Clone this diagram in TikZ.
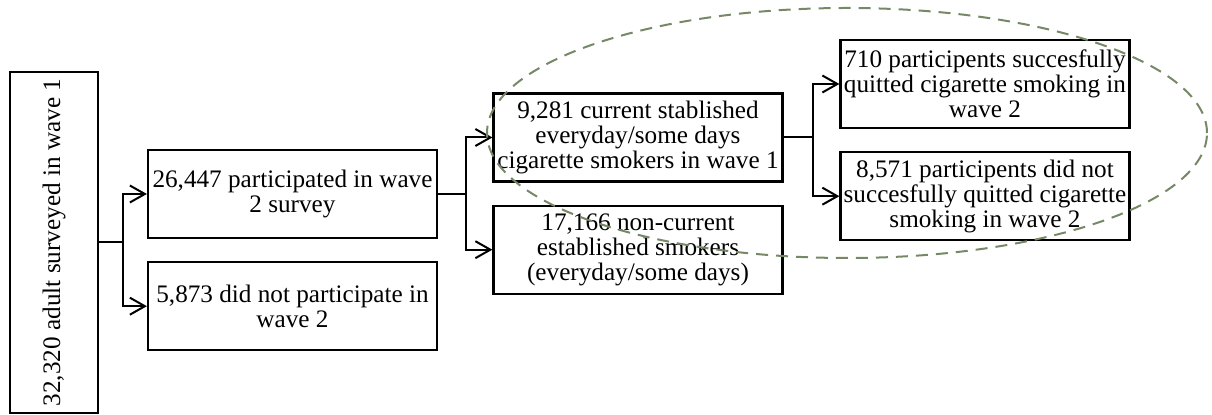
\documentclass[tikz,border=0pt]{standalone}
\usepackage{fontspec}
\setmainfont{Liberation Serif}
\usepackage{tikz}
\usetikzlibrary{arrows.meta,positioning}

\definecolor{ringgreen}{RGB}{118,136,102}

\begin{document}
\begin{tikzpicture}[x=1pt,y=1pt,>={Straight Barb[length=7.5pt,width=8.5pt]},
line width=1pt,node distance=11pt,
font=\fontsize{12.6}{12.6}\selectfont]

\tikzstyle{box}=[draw,line width=1.1pt,align=center,inner sep=1pt,
minimum width=144.5pt,minimum height=44pt]
\tikzstyle{ring}=[draw=ringgreen,dash pattern=on 6pt off 4pt]

\useasboundingbox (0,0) rectangle (606,-207.5);

\node[box,rotate=90,minimum width=170.5pt,minimum height=44pt] (wave1) at (27,-121.25)
  {32,320 adult surveyed in wave 1};
\node[box] (part)    at (146.25,-97)    {26,447 participated in wave\\2 survey};
\node[box] (nopart)  [below=of part]    {5,873 did not participate in\\wave 2};
\node[box] (current) at (319,-68.75)    {9,281 current stablished\\everyday/some days\\cigarette smokers in wave 1};
\node[box] (noncur)  [below=of current] {17,166 non-current\\established smokers\\(everyday/some days)};
\node[box] (quit)    at (492.5,-42)     {710 participents succesfully\\quitted cigarette smoking in\\wave 2};
\node[box] (noquit)  [below=of quit]    {8,571 participents did not\\succesfully quitted cigarette\\smoking in wave 2};

% branch points
\path (wave1.south) ++(12,0) coordinate (j1);
\path (part.east) ++(14,0) coordinate (j2);
\path (current.east) ++(14.5,0) coordinate (j3);

\draw (wave1.south) -- (j1);
\draw[->] (j1) |- (part);
\draw[->] (j1) |- (nopart);
\draw (part) -- (j2);
\draw[->] (j2) |- (current);
\draw[->] (j2) |- (noncur);
\draw (current) -- (j3);
\draw[->] (j3) |- (quit);
\draw[->] (j3) |- (noquit);

\draw[ring] (423.5,-66.5) ellipse [x radius=180, y radius=62.5];
\end{tikzpicture}
\end{document}
